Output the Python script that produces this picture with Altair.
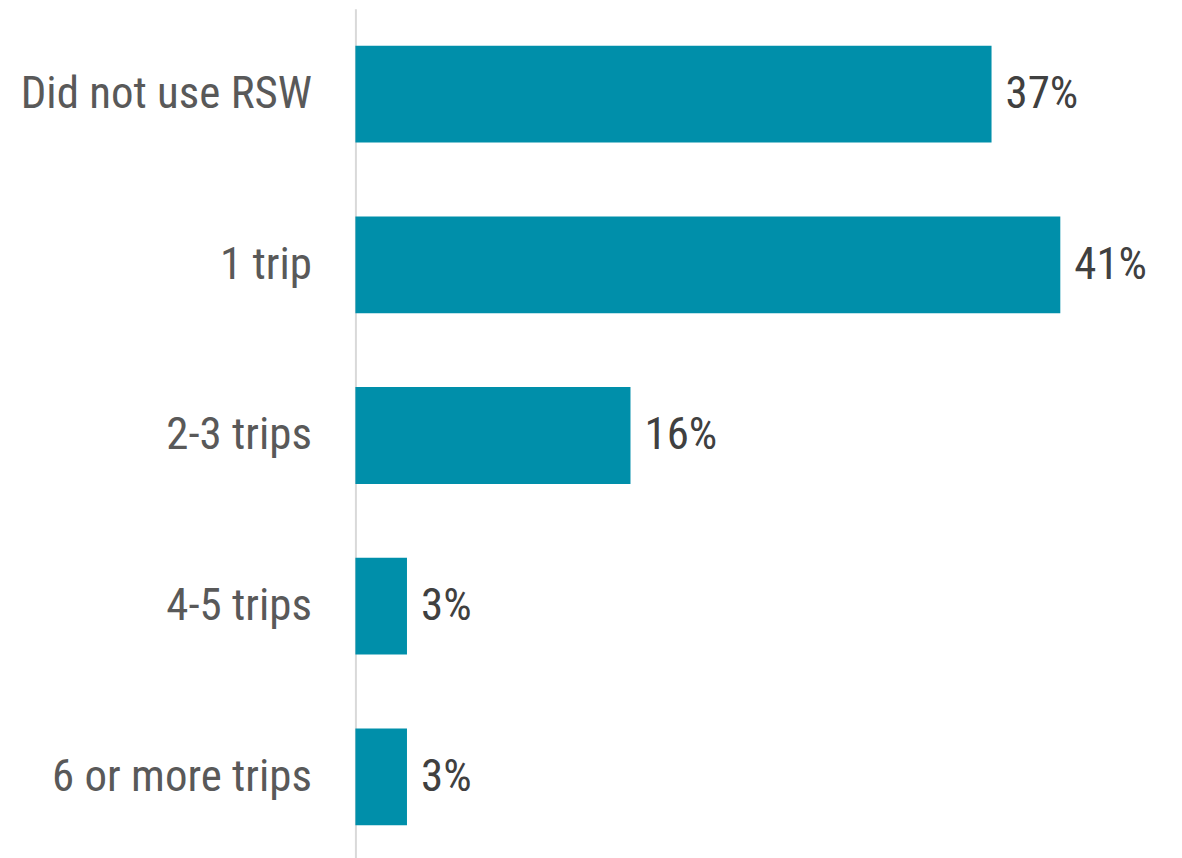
import altair as alt
import pandas as pd

categories = ["Did not use RSW", "1 trip", "2-3 trips", "4-5 trips", "6 or more trips"]
values = [37, 41, 16, 3, 3]
labels = ["37%", "41%", "16%", "3%", "3%"]

df = pd.DataFrame({"cat": categories, "val": values, "lab": labels})

FONT = "Roboto Condensed, Arial Narrow, sans-serif"

y_enc = alt.Y("cat:N", sort=categories, title=None,
              scale=alt.Scale(paddingInner=0.433, paddingOuter=0.2165),
              axis=alt.Axis(ticks=False, tickSize=0, labelPadding=44,
                            labelFontSize=45, labelColor="#595959", labelFont=FONT,
                            domainColor="#D9D9D9", domainWidth=2, labelLimit=400))
x_enc = alt.X("val:Q", title=None, scale=alt.Scale(domain=[0, 45], nice=False),
              axis=None)

bars = alt.Chart(df).mark_bar(color="#008FAA").encode(y=y_enc, x=x_enc)
text = alt.Chart(df).mark_text(align="left", baseline="middle", dx=14,
                               fontSize=45, color="#404040", font=FONT).encode(
    y=alt.Y("cat:N", sort=categories), x=alt.X("val:Q"), text="lab:N")

chart = (bars + text).properties(
    width=775, height=855,
    background="white",
    autosize=alt.AutoSizeParams(type="none"),
    padding={"left": 348, "top": 0, "right": 45, "bottom": 0},
).configure_view(strokeWidth=0, stroke=None)

chart.save("out.html", embed_options={"renderer": "svg", "actions": False})
